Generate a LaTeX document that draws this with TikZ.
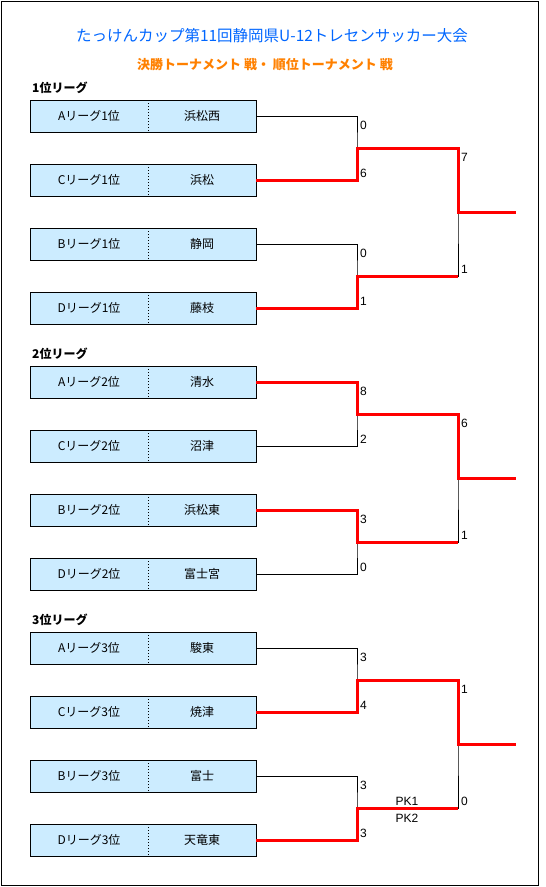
\documentclass[tikz,border=0pt]{standalone}
\usepackage{fontspec}
\setmainfont{Noto Sans CJK JP}
\newfontfamily\numfont{Liberation Sans}
\usepackage{tikz}
\usetikzlibrary{positioning}
\definecolor{boxblue}{HTML}{CCECFF}
\definecolor{titleblue}{HTML}{0066FF}
\definecolor{titleorange}{HTML}{FF8000}
\definecolor{winred}{HTML}{FF0000}

\begin{document}
\begin{tikzpicture}[x=1pt, y=-1pt,
    leaguecell/.style={fill=boxblue, minimum width=118pt, minimum height=32pt,
        inner sep=0pt, outer sep=0pt, font=\fontsize{12}{14}\selectfont},
    teamcell/.style={leaguecell, minimum width=108pt},
    bracket/.style={line width=1pt},
    win/.style={draw=winred, line width=3pt},
    score/.style={inner sep=0pt, font=\numfont\fontsize{12}{14}\selectfont},
    grouplabel/.style={anchor=west, inner sep=0pt, font=\bfseries\fontsize{12}{14}\selectfont}]

    % --- 1. 枠と見出し ---
    \useasboundingbox (0,0) rectangle (546,887);
    \draw[bracket] (1.5,1.5) rectangle (538.5,885.5);
    \node[titleblue, font=\fontsize{15.5}{18}\selectfont] (title) at (272,36)
        {たっけんカップ第11回静岡県U-12トレセンサッカー大会};
    \node[titleorange, font=\bfseries\fontsize{13}{15}\selectfont] (subtitle) at (265,65)
        {決勝トーナメント 戦・ 順位トーナメント 戦};
    \node[grouplabel] (g1) at (32,88) {1位リーグ};
    \node[grouplabel] (g2) at (32,354) {2位リーグ};
    \node[grouplabel] (g3) at (32,620) {3位リーグ};

    % --- 2. チームの枠 ---
    \foreach \g/\r/\lg/\tm/\y in {1/1/A/浜松西/116, 1/2/C/浜松/180, 1/3/B/静岡/244, 1/4/D/藤枝/308,
        2/1/A/清水/382, 2/2/C/沼津/446, 2/3/B/浜松東/510, 2/4/D/富士宮/574,
        3/1/A/駿東/648, 3/2/C/焼津/712, 3/3/B/富士/776, 3/4/D/天竜東/840} {
        \node[leaguecell] (L\g\r) at (89,\y) {\lg リーグ\g 位};
        \node[teamcell, right=0pt of L\g\r] (T\g\r) {\tm};
        \draw[bracket] (L\g\r.north west) rectangle (T\g\r.south east);
        \draw[bracket, dotted] (L\g\r.north east) -- (L\g\r.south east);
    }

    % --- 3. 組み合わせの点 ---
    \coordinate (J11) at (357,148);
    \coordinate (J12) at (357,276);
    \coordinate (F1) at (458,212);
    \coordinate (E1) at (516,212);
    \coordinate (J21) at (357,414);
    \coordinate (J22) at (357,542);
    \coordinate (F2) at (458,478);
    \coordinate (E2) at (516,478);
    \coordinate (J31) at (357,680);
    \coordinate (J32) at (357,808);
    \coordinate (F3) at (458,744);
    \coordinate (E3) at (516,744);

    % --- 4. トーナメント線 (黒) ---
    \foreach \g in {1,2,3} {
        \draw[bracket] (T\g1.east) -| (J\g1) |- (T\g2.east);
        \draw[bracket] (T\g3.east) -| (J\g2) |- (T\g4.east);
        \draw[bracket] (J\g1) -| (F\g) |- (J\g2);
    }

    % --- 5. 勝ち上がり (赤) ---
    \draw[win] (T12.east) -| (J11) -| (F1) -- (E1);
    \draw[win] (T14.east) -| (J12) -- (J12 -| F1);
    \draw[win] (T21.east) -| (J21) -| (F2) -- (E2);
    \draw[win] (T23.east) -| (J22) -- (J22 -| F2);
    \draw[win] (T32.east) -| (J31) -| (F3) -- (E3);
    \draw[win] (T34.east) -| (J32) -- (J32 -| F3);

    % --- 6. スコア ---
    \node[score, anchor=north west] (s11) at (360,121) {0};
    \node[score, anchor=south west] (s12) at (360,178) {6};
    \node[score, anchor=north west] (s13) at (360,249) {0};
    \node[score, anchor=south west] (s14) at (360,306) {1};
    \node[score, anchor=north west] (f11) at (461,153) {7};
    \node[score, anchor=south west] (f12) at (461,274) {1};

    \node[score, anchor=north west] (s21) at (360,387) {8};
    \node[score, anchor=south west] (s22) at (360,444) {2};
    \node[score, anchor=north west] (s23) at (360,515) {3};
    \node[score, anchor=south west] (s24) at (360,572) {0};
    \node[score, anchor=north west] (f21) at (461,419) {6};
    \node[score, anchor=south west] (f22) at (461,540) {1};

    \node[score, anchor=north west] (s31) at (360,653) {3};
    \node[score, anchor=south west] (s32) at (360,710) {4};
    \node[score, anchor=north west] (s33) at (360,781) {3};
    \node[score, anchor=south west] (s34) at (360,838) {3};
    \node[score, anchor=north west] (f31) at (461,685) {1};
    \node[score, anchor=south west] (f32) at (461,806) {0};
    \node[score] (pk1) at (407,801) {PK1};
    \node[score] (pk2) at (407,818) {PK2};

\end{tikzpicture}
\end{document}
